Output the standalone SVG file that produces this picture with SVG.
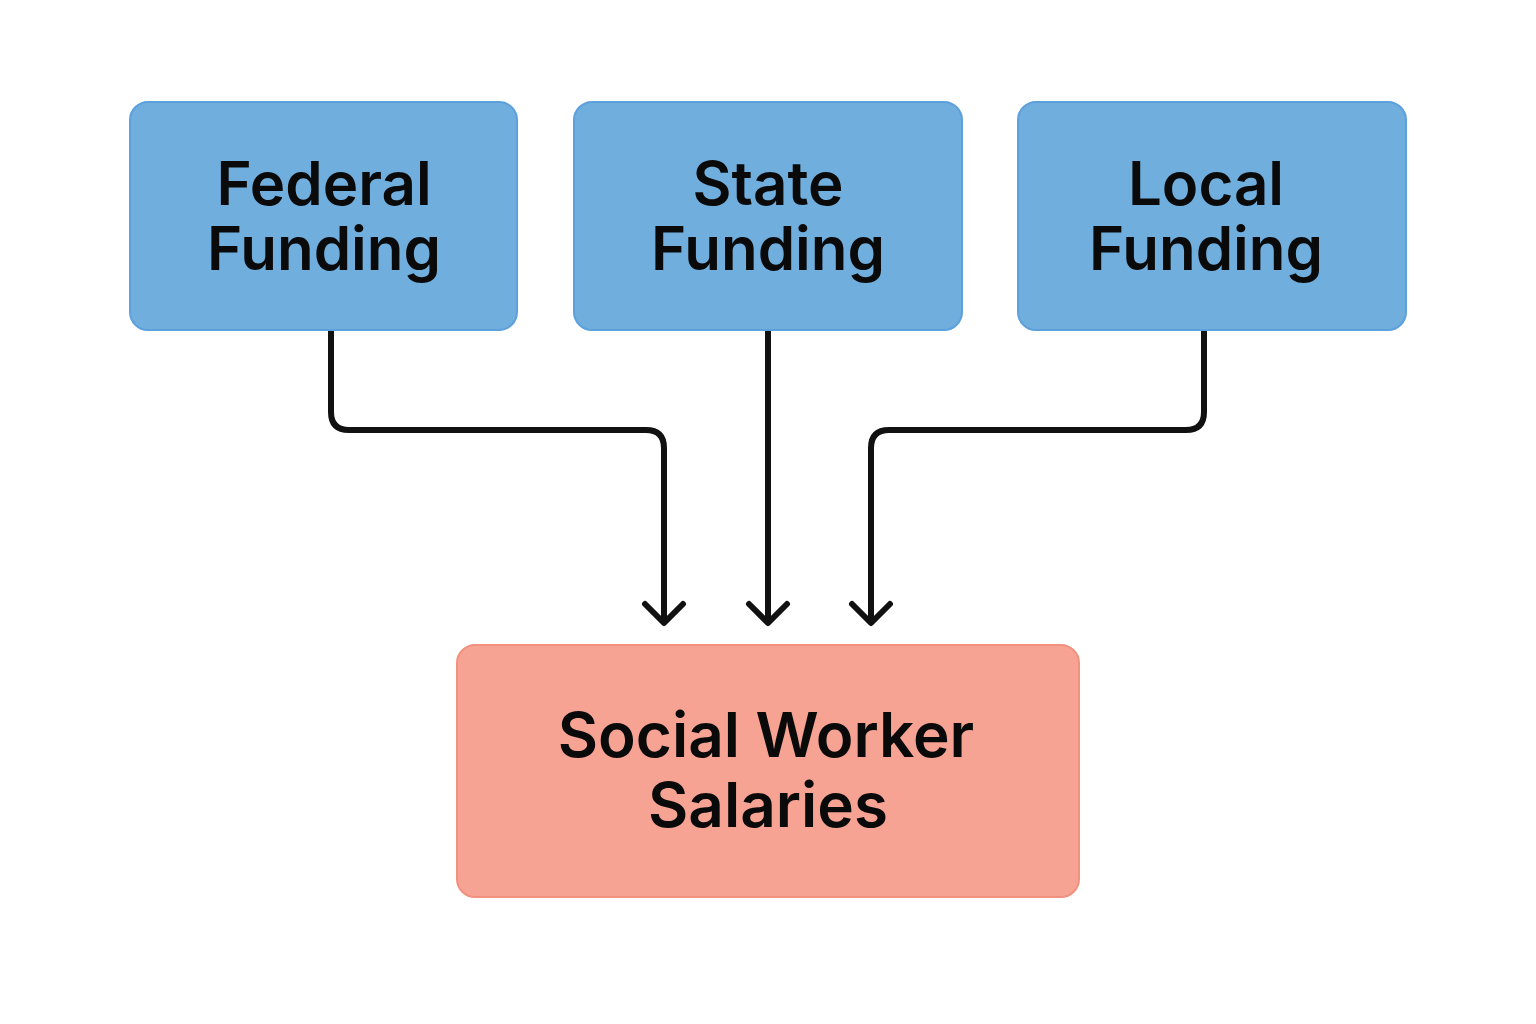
<svg xmlns="http://www.w3.org/2000/svg" width="1536" height="1024" viewBox="0 0 1536 1024">
<defs>
<style>
.src{fill:#70AEDE;stroke:#5CA0DC;stroke-width:2}
.dst{fill:#F6A394;stroke:#F2917F;stroke-width:2}
.lbl{font-family:Inter,"Noto Sans","Liberation Sans",sans-serif;font-weight:600;font-size:60px;fill:#0a0a0a;text-anchor:middle}
.big{font-size:62px}
.wire{fill:none;stroke:#111;stroke-width:6;stroke-linecap:round;stroke-linejoin:round}
</style>
</defs>
<rect width="1536" height="1024" fill="#fff"/>
<g id="connectors">
<path class="wire" d="M331,331 V412 Q331,430 349,430 H646 Q664,430 664,448 V622"/>
<path class="wire" d="M768,331 V622"/>
<path class="wire" d="M1204,331 V412 Q1204,430 1186,430 H889 Q871,430 871,448 V622"/>
<path class="wire" d="M645,604 L664,623 L683,604 M749,604 L768,623 L787,604 M852,604 L871,623 L890,604"/>
</g>
<g id="federal">
<rect class="src" x="130" y="102" width="387" height="228" rx="18"/>
<text class="lbl" x="324" y="205">Federal</text>
<text class="lbl" x="324" y="270">Funding</text>
</g>
<g id="state">
<rect class="src" x="574" y="102" width="388" height="228" rx="18"/>
<text class="lbl" x="768" y="205">State</text>
<text class="lbl" x="768" y="270">Funding</text>
</g>
<g id="local">
<rect class="src" x="1018" y="102" width="388" height="228" rx="18"/>
<text class="lbl" x="1206" y="205">Local</text>
<text class="lbl" x="1206" y="270">Funding</text>
</g>
<g id="salaries">
<rect class="dst" x="457" y="645" width="622" height="252" rx="18"/>
<text class="lbl big" x="766" y="757">Social Worker</text>
<text class="lbl big" x="768" y="827">Salaries</text>
</g>
</svg>
